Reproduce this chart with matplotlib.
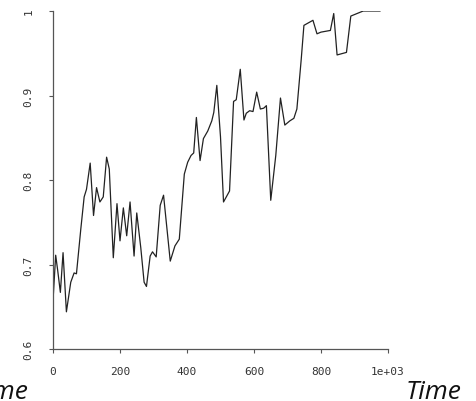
import matplotlib
matplotlib.use("Agg")
import matplotlib.pyplot as plt

time = [0, 8, 14, 22, 30, 40, 53, 63, 70, 83, 93, 100, 111, 121, 130, 140, 150, 160, 168,
        180, 191, 200, 210, 220, 230, 242, 250, 262, 272, 279, 290, 297, 308, 320, 330,
        350, 364, 377, 392, 402, 412, 420, 428, 439, 449, 462, 474, 480, 489, 500, 509,
        527, 539, 547, 559, 570, 577, 587, 597, 608, 619, 629, 637, 650, 665, 679, 692,
        707, 719, 728, 741, 749, 776, 788, 800, 828, 838, 848, 876, 889, 926, 976]
value = [0.657, 0.711, 0.693, 0.667, 0.714, 0.644, 0.679, 0.690, 0.689, 0.742, 0.780,
         0.789, 0.820, 0.758, 0.791, 0.774, 0.780, 0.827, 0.813, 0.708, 0.772, 0.728,
         0.767, 0.734, 0.774, 0.710, 0.761, 0.720, 0.679, 0.674, 0.710, 0.715, 0.709,
         0.770, 0.782, 0.704, 0.722, 0.730, 0.807, 0.821, 0.829, 0.832, 0.874, 0.823,
         0.849, 0.858, 0.870, 0.880, 0.912, 0.851, 0.774, 0.787, 0.893, 0.895, 0.931,
         0.871, 0.879, 0.882, 0.881, 0.904, 0.884, 0.885, 0.888, 0.776, 0.829, 0.897,
         0.865, 0.870, 0.873, 0.884, 0.943, 0.983, 0.989, 0.973, 0.975, 0.977, 0.997,
         0.948, 0.951, 0.994, 1.0, 1.0]

xticks = [0, 200, 400, 600, 800, 1000]
xticklabels = ["0", "200", "400", "600", "800", "1e+03"]
yticks = [0.6, 0.7, 0.8, 0.9, 1.0]
yticklabels = ["0.6", "0.7", "0.8", "0.9", "1"]

fig = plt.figure(figsize=(4.77, 4.02), dpi=100)
ax = fig.add_axes([53/477, 1 - 350/402, (388 - 53)/477, (350 - 12)/402])
ax.plot(time, value, color="#222222", linewidth=0.9)
ax.set_xlim(0, 1000)
ax.set_ylim(0.6, 1.0)
for s in ["top", "right"]:
    ax.spines[s].set_visible(False)
for s in ["left", "bottom"]:
    ax.spines[s].set_color("#555555")
    ax.spines[s].set_linewidth(0.9)
ax.set_xticks(xticks)
ax.set_xticklabels(xticklabels, family="DejaVu Sans Mono", fontsize=8, color="#333333")
ax.set_yticks(yticks)
ax.set_yticklabels(yticklabels, family="DejaVu Sans Mono", fontsize=8, color="#333333",
                   rotation=90, va="center")
ax.tick_params(axis="both", direction="out", length=3, width=0.8, color="#555555")
ax.tick_params(axis="x", pad=9)
ax.tick_params(axis="y", pad=11)

fig.text(461/477, 3/402, "Time", family="Open Sans", style="italic", fontsize=19,
         ha="right", va="baseline", color="#111111")
fig.text(28/477, 3/402, "Time", family="Open Sans", style="italic", fontsize=19,
         ha="right", va="baseline", color="#111111")

fig.savefig("out.png", dpi=100)
